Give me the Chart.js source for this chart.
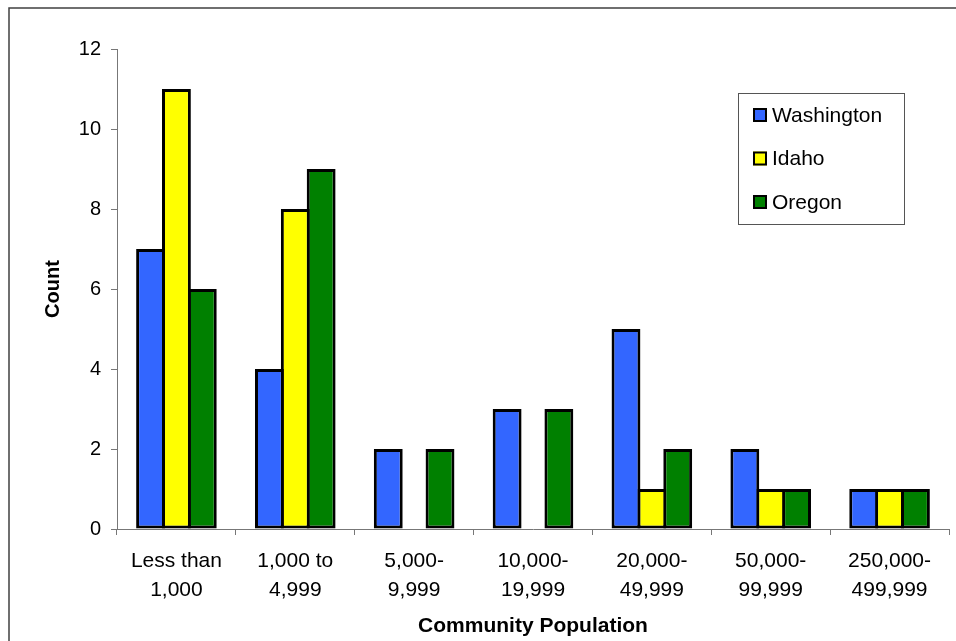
<!DOCTYPE html>
<html>
<head>
<meta charset="utf-8">
<title>Community Population Counts</title>
<script src="https://cdn.jsdelivr.net/npm/chart.js@4"></script>
<style>
  html, body { margin: 0; padding: 0; background: #fff; }
  canvas { display: block; }
</style>
</head>
<body>
<canvas id="chart" width="956" height="641"></canvas>
<script>
// Population bands (two-line labels)
const categories = [
  ["Less than", "1,000"],
  ["1,000 to", "4,999"],
  ["5,000-", "9,999"],
  ["10,000-", "19,999"],
  ["20,000-", "49,999"],
  ["50,000-", "99,999"],
  ["250,000-", "499,999"]
];
// Number of communities per band, by state
const washington = [7, 4, 2, 3, 5, 2, 1];
const idaho      = [11, 8, 0, 0, 1, 1, 1];
const oregon     = [6, 9, 2, 3, 2, 1, 1];
// Count axis ticks
const countTicks = [0, 2, 4, 6, 8, 10, 12];

const FONT = '"Liberation Sans", Arial, Helvetica, sans-serif';
const BAR_BORDER = 3;

// White page with the outer frame line
const framePlugin = {
  id: 'frame',
  beforeDraw(chart) {
    const ctx = chart.ctx;
    ctx.save();
    ctx.fillStyle = '#fff';
    ctx.fillRect(0, 0, chart.width, chart.height);
    ctx.strokeStyle = '#404040';
    ctx.lineWidth = 1.5;
    ctx.strokeRect(9, 8, chart.width + 20, chart.height + 20);
    ctx.restore();
  }
};

// Boxed legend in the upper right
const boxLegend = {
  id: 'boxLegend',
  afterDraw(chart) {
    const ctx = chart.ctx;
    ctx.save();
    ctx.strokeStyle = '#555';
    ctx.lineWidth = 1;
    ctx.strokeRect(738.5, 93.5, 166, 131);
    chart.data.datasets.forEach((ds, i) => {
      const cy = 115 + i * 43.5;
      ctx.fillStyle = ds.backgroundColor;
      ctx.fillRect(753, cy - 7, 14, 14);
      ctx.lineWidth = 2;
      ctx.strokeStyle = '#000';
      ctx.strokeRect(754, cy - 6, 12, 12);
      ctx.fillStyle = '#000';
      ctx.font = '21px ' + FONT;
      ctx.textBaseline = 'middle';
      ctx.textAlign = 'left';
      ctx.fillText(ds.label, 772, cy + 1);
    });
    ctx.restore();
  }
};

const slotShare = 0.653;           // share of a category taken by the three bars
const overlap = 1.116;             // bars overlap slightly so neighbours share one outline

new Chart(document.getElementById('chart'), {
  type: 'bar',
  data: {
    labels: categories,
    datasets: [
      { label: 'Washington', data: washington, backgroundColor: '#3366FF' },
      { label: 'Idaho',      data: idaho,      backgroundColor: '#FFFF00' },
      { label: 'Oregon',     data: oregon,     backgroundColor: '#008000' }
    ].map(d => Object.assign(d, {
      borderColor: '#000',
      borderWidth: BAR_BORDER,
      borderSkipped: false,
      categoryPercentage: slotShare,
      barPercentage: overlap
    }))
  },
  options: {
    responsive: false,
    animation: false,
    events: [],
    layout: { padding: { top: 49, right: 7, bottom: 0, left: 0 } },
    plugins: {
      legend: { display: false },
      tooltip: { enabled: false }
    },
    scales: {
      x: {
        grid: { drawOnChartArea: false, drawTicks: true, tickLength: 6, color: '#777', offset: true },
        border: { color: '#777', width: 1 },
        ticks: {
          color: '#000',
          padding: 12,
          maxRotation: 0,
          autoSkip: false,
          font: { family: FONT, size: 21, lineHeight: 1.36 }
        },
        title: {
          display: true,
          text: 'Community Population',
          color: '#000',
          padding: { top: 0, bottom: 2 },
          font: { family: FONT, size: 21, weight: 'bold' }
        },
        afterFit(scale) { scale.height = 112; }
      },
      y: {
        min: 0,
        max: 12,
        grid: { drawOnChartArea: false, drawTicks: true, tickLength: 6, color: '#777' },
        border: { color: '#777', width: 1 },
        ticks: {
          color: '#000',
          padding: 10,
          font: { family: FONT, size: 20 }
        },
        afterBuildTicks(scale) { scale.ticks = countTicks.map(v => ({ value: v })); },
        title: {
          display: true,
          text: 'Count',
          color: '#000',
          padding: { top: 41, bottom: 0 },
          font: { family: FONT, size: 20, weight: 'bold' }
        },
        afterFit(scale) { scale.width = 117; }
      }
    }
  },
  plugins: [framePlugin, boxLegend]
});
</script>
</body>
</html>
